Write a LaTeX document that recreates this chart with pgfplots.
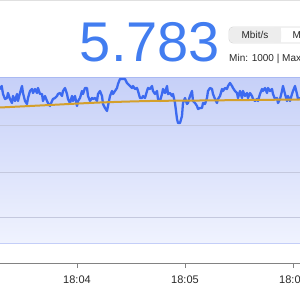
\documentclass[border=0pt]{standalone}
\usepackage{pgfplots}
\pgfplotsset{compat=1.18}
\usepackage{fontspec}
\setmainfont{Liberation Sans}
\definecolor{bignum}{RGB}{66,125,240}
\definecolor{series}{RGB}{60,106,240}
\definecolor{avgline}{RGB}{212,160,44}
\definecolor{bgtop}{RGB}{198,208,248}
\definecolor{bgbot}{RGB}{240,243,254}
\definecolor{bordertop}{RGB}{170,185,242}
\definecolor{borderbot}{RGB}{196,206,248}
\definecolor{gridc}{RGB}{196,200,222}
\definecolor{tickc}{RGB}{130,130,130}
\definecolor{txt}{RGB}{40,40,40}
\begin{document}
\begin{tikzpicture}
\useasboundingbox (0bp,0bp) rectangle (300bp,300bp);
\draw[black!12, line width=1bp] (0bp,299.5bp) -- (300bp,299.5bp);
\node[anchor=base, text=bignum, font=\fontsize{56bp}{60bp}\selectfont, inner sep=0] at (150bp,238bp) {5.783};
% unit switch
\begin{scope}
\clip (0bp,0bp) rectangle (300bp,300bp);
\draw[draw=black!15, fill=white, rounded corners=4bp, line width=0.7bp] (229bp,257bp) rectangle (340bp,273bp);
\fill[black!7, rounded corners=4bp] (229.4bp,257.4bp) rectangle (281bp,272.6bp);
\fill[black!7] (274bp,257.4bp) rectangle (281bp,272.6bp);
\node[anchor=base, text=txt, font=\fontsize{10bp}{12bp}\selectfont, inner sep=0] at (255bp,261bp) {Mbit/s};
\node[anchor=base west, text=txt, font=\fontsize{10bp}{12bp}\selectfont, inner sep=0] at (292.5bp,261bp) {MB/s};
\node[anchor=base west, text=txt, font=\fontsize{10bp}{12bp}\selectfont, inner sep=0] at (229bp,238.5bp) {Min: 1000 | Max: 1000};
\end{scope}
% chart background band
\fill[top color=bgtop, bottom color=bgbot] (0bp,56bp) rectangle (300bp,222bp);
\draw[bordertop, line width=1bp] (0bp,222bp) -- (300bp,222bp);
\draw[borderbot, line width=1bp] (0bp,56bp) -- (300bp,56bp);
\begin{axis}[
  at={(0bp,37bp)}, anchor=south west,
  scale only axis, width=300bp, height=263bp,
  xmin=0, xmax=300, ymin=37, ymax=300,
  axis lines*=left,
  x axis line style={-, draw=tickc, line width=0.9bp},
  y axis line style={draw=none},
  ytick={83,128,175}, yticklabels={}, ytick style={draw=none},
  ymajorgrids=true,
  grid style={draw=gridc, line width=0.8bp},
  xtick={77,185,293}, xticklabels={18:04,18:05,18:06},
  tick align=outside, major tick length=5bp,
  x tick style={draw=tickc, line width=0.9bp},
  xticklabel style={font=\fontsize{11bp}{13bp}\selectfont, text=txt, inner sep=1.5bp, yshift=-6bp},
  clip=true,
]
\addplot[series, line width=2.3bp, line join=round, line cap=round] coordinates {
(0,211)(1.7,214)(3,206)(5,201)(7,202)(8,207)(10,201)(12,197)(13,204)(15,199)(17,206)(18,199)(20,207)(22,214)(23,207)(25,199)(27,196)(28,202)(30,209)(32,211)(33,207)(35,211)(37,207)(38,212)(40,206)(42,206)(43,199)(45,204)(47,199)(48,197)(50,194)(52,199)(53,201)(55,202)(57,204)(58,206)(60,207)(62,204)(63,209)(65,212)(67,206)(68,201)(70,197)(72,204)(73,199)(75,204)(77,194)(78,199)(80,202)(82,209)(83,206)(85,212)(87,212)(88,204)(90,199)(92,202)(93,201)(95,202)(97,199)(98,206)(100,209)
(102,204)(103,196)(105,192)(107,189)(108,194)(110,204)(112,209)(113,206)(115,209)(117,212)(118,216)(120,221)(122,221)(123,221)(125,221)(127,217)(128,216)(130,214)(132,212)(133,214)(135,211)(137,212)(138,209)(140,202)(142,202)(143,204)(145,202)(147,209)(148,212)(150,211)(152,214)(153,209)(155,206)(157,209)(158,201)(160,199)(162,206)(163,211)(165,207)(167,214)(168,206)(170,207)(172,204)(173,206)(175,197)(177,181)(178,177)(180,177)(182,184)(183,197)(185,202)(187,196)(188,197)(190,204)(192,209)(193,199)(195,197)(197,194)(198,191)(200,192)
(202,192)(203,197)(205,196)(207,202)(208,209)(210,212)(212,211)(213,206)(215,201)(217,197)(218,201)(220,204)(222,211)(223,209)(225,212)(227,211)(228,214)(230,217)(232,214)(233,212)(235,209)(237,207)(238,202)(240,209)(242,202)(243,209)(245,204)(247,207)(248,202)(250,207)(252,204)(253,201)(255,199)(257,201)(258,199)(260,206)(262,211)(263,209)(265,212)(267,207)(268,212)(270,209)(272,211)(273,206)(275,201)(277,202)(278,197)(280,201)(282,209)(283,214)(285,206)(287,199)(288,204)(290,199)(292,206)(293,209)(295,214)(297,206)(298,201)(300,202)
};
\addplot[avgline, line width=2bp, smooth] coordinates {
(0,192.5)(50,195)(100,197.5)(150,199)(200,199.5)(250,200)(300,200.5)
};
\end{axis}
\end{tikzpicture}
\end{document}
